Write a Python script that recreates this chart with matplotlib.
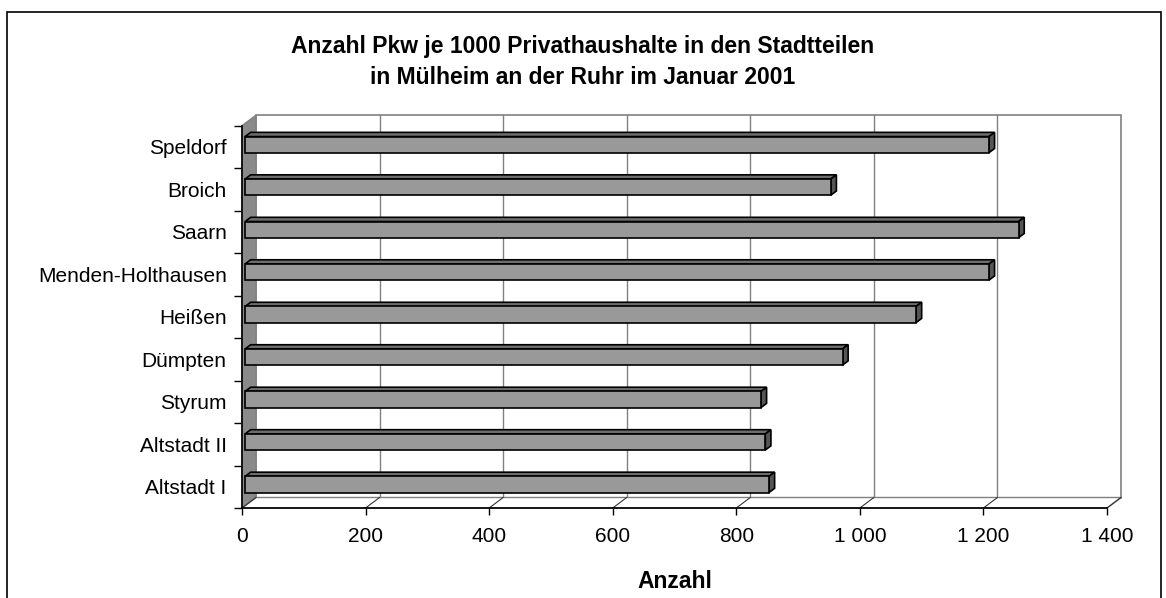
import matplotlib
matplotlib.use("Agg")
import matplotlib.pyplot as plt
from matplotlib.patches import Polygon, Rectangle

plt.rcParams['font.family'] = ['Liberation Sans', 'DejaVu Sans']

# Daten (von unten nach oben)
stadtteile = ['Altstadt I', 'Altstadt II', 'Styrum', 'Dümpten', 'Heißen',
              'Menden-Holthausen', 'Saarn', 'Broich', 'Speldorf']
anzahl = [848, 842, 835, 967, 1086, 1204, 1252, 948, 1204]
x_ticks = [0, 200, 400, 600, 800, 1000, 1200, 1400]
x_ticklabels = ['0', '200', '400', '600', '800', '1 000', '1 200', '1 400']

W, H = 1166, 598
fig = plt.figure(figsize=(W / 100, H / 100), dpi=100)

# Achse so legen, dass die vordere Kante der Pixelposition entspricht
x0, x1 = 242, 1107
y_top, y_bot = 125.7, 508
ax = fig.add_axes([x0 / W, (H - y_bot) / H, (x1 - x0) / W, (y_bot - y_top) / H])
xmax = 1400
n = len(stadtteile)
ax.set_xlim(0, xmax)
ax.set_ylim(0, n)
ax.patch.set_visible(False)

# Tiefenversatz (3D-Optik) in Datenkoordinaten
sx = (x1 - x0) / xmax
sy = (y_bot - y_top) / n
DX = 14 / sx
DY = 10.5 / sy

grau = '#808080'

# Rueckwand
ax.add_patch(Polygon([(DX, DY), (xmax + DX, DY), (xmax + DX, n + DY), (DX, n + DY)],
                     closed=True, facecolor='white', edgecolor=grau, lw=1.2,
                     zorder=1, clip_on=False))
for v in x_ticks[1:-1]:
    ax.plot([v + DX, v + DX], [DY, n + DY], color=grau, lw=1.0, zorder=2, clip_on=False)

# linke Seitenwand
ax.add_patch(Polygon([(0, 0), (DX, DY), (DX, n + DY), (0, n)], closed=True,
                     facecolor='#8a8a8a', edgecolor=grau, lw=1.0, zorder=2, clip_on=False))

# Boden
ax.add_patch(Polygon([(0, 0), (xmax, 0), (xmax + DX, DY), (DX, DY)], closed=True,
                     facecolor='white', edgecolor=grau, lw=1.0, zorder=2, clip_on=False))
for v in x_ticks:
    ax.plot([v, v + DX], [0, DY], color='#333333', lw=0.8, zorder=3, clip_on=False)

# Balken
d0, d1 = 0.22, 0.62
hh = 0.19
for i, v in enumerate(anzahl):
    yb = i + 0.5 - hh
    yt = i + 0.5 + hh
    fx, fy = d0 * DX, d0 * DY
    bx, by = d1 * DX, d1 * DY
    kw = dict(edgecolor='black', lw=1.2, joinstyle='miter', zorder=4, clip_on=False)
    # Oberseite
    ax.add_patch(Polygon([(fx, yt + fy), (v + fx, yt + fy), (v + bx, yt + by), (bx, yt + by)],
                         closed=True, facecolor='#6e6e6e', **kw))
    # Stirnseite
    ax.add_patch(Polygon([(v + fx, yb + fy), (v + bx, yb + by), (v + bx, yt + by), (v + fx, yt + fy)],
                         closed=True, facecolor='#555555', **kw))
    # Vorderseite
    ax.add_patch(Polygon([(fx, yb + fy), (v + fx, yb + fy), (v + fx, yt + fy), (fx, yt + fy)],
                         closed=True, facecolor='#999999', **kw))

# Achsen
for s in ['top', 'right']:
    ax.spines[s].set_visible(False)
for s in ['left', 'bottom']:
    ax.spines[s].set_color('black')
    ax.spines[s].set_linewidth(1.2)
    ax.spines[s].set_zorder(5)

ax.set_yticks([i + 0.5 for i in range(n)], stadtteile, fontsize=15)
ax.set_yticks(range(n + 1), minor=True)
ax.tick_params(axis='y', which='major', length=0, pad=11)
ax.tick_params(axis='y', which='minor', length=6, width=1.0, direction='out')

ax.set_xticks(x_ticks, x_ticklabels, fontsize=15)
ax.tick_params(axis='x', which='major', length=5, width=1.0, direction='out', pad=9)

ax.set_xlabel('Anzahl', fontsize=16.5, fontweight='bold')
ax.xaxis.set_label_coords(0.5, (H - 581 - (H - y_bot)) / (y_bot - y_top))
ax.xaxis.label.set_va('center')

# Titel
fig.text(583 / W, 1 - 46 / H, 'Anzahl Pkw je 1000 Privathaushalte in den Stadtteilen',
         ha='center', va='center', fontsize=16.5, fontweight='bold')
fig.text(583 / W, 1 - 78 / H, 'in Mülheim an der Ruhr im Januar 2001',
         ha='center', va='center', fontsize=16.5, fontweight='bold')

# Rahmen
fig.patches.append(Rectangle((7 / W, -0.05), (1161 - 7) / W, 1.05 - 12 / H,
                             transform=fig.transFigure, fill=False,
                             edgecolor='black', lw=1.2))

fig.savefig('out.png', dpi=100)
